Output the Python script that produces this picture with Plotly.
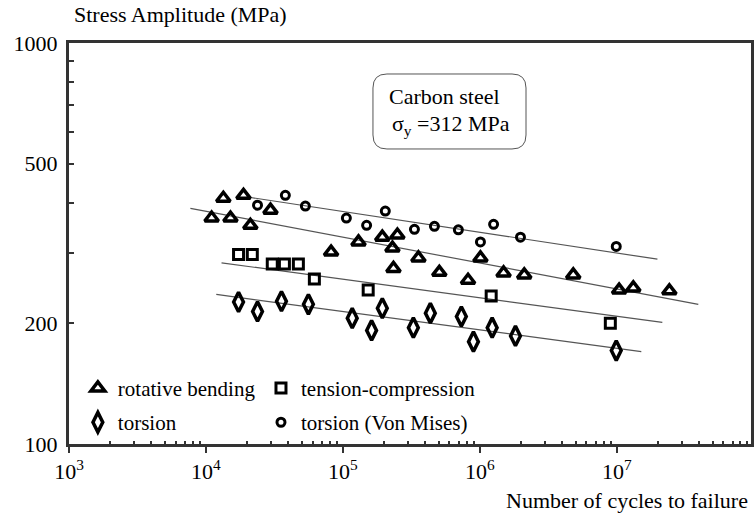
import plotly.graph_objects as go

# ---- data (cycles to failure N, stress amplitude in MPa) ----
rb_N = [1.10e4, 1.34e4, 1.51e4, 1.88e4, 2.11e4, 2.96e4, 8.2e4, 1.30e5, 1.94e5, 2.50e5,
        2.30e5, 2.34e5, 3.56e5, 5.06e5, 8.2e5, 1.01e6, 1.49e6, 2.11e6, 4.81e6, 1.04e7,
        1.32e7, 2.42e7]
rb_S = [366, 410, 366, 417, 351, 383, 301, 319, 328, 332,
        308, 274, 291, 268, 256, 291, 267, 264, 264, 242,
        245, 241]

tc_N = [1.73e4, 2.18e4, 3.05e4, 3.74e4, 4.73e4, 6.19e4, 1.53e5, 1.21e6, 8.97e6]
tc_S = [297, 297, 281, 281, 281, 258, 242, 234, 200]

to_N = [1.73e4, 2.38e4, 3.56e4, 5.60e4, 1.17e5, 1.62e5, 1.94e5, 3.27e5, 4.35e5,
        7.33e5, 8.98e5, 1.23e6, 1.82e6, 9.91e6]
to_S = [226, 214, 227, 223, 206, 192, 218, 195, 212, 208, 180, 195, 186, 171]

vm_N = [2.38e4, 3.80e4, 5.32e4, 1.06e5, 1.49e5, 2.04e5, 3.33e5, 4.66e5, 6.97e5,
        1.01e6, 1.26e6, 1.98e6, 9.91e6]
vm_S = [394, 417, 392, 366, 351, 381, 343, 349, 342, 319, 353, 328, 311]

# fitted lines (end points)
fit_vm_N = [2.01e4, 1.98e7]; fit_vm_S = [413, 289]
fit_rb_N = [7.7e3, 3.94e7];  fit_rb_S = [387, 223]
fit_tc_N = [1.30e4, 2.15e7]; fit_tc_S = [283, 201]
fit_to_N = [1.19e4, 1.51e7]; fit_to_S = [236, 170]

x_tickvals = [1e3, 1e4, 1e5, 1e6, 1e7]
x_ticktext = ["10<sup>3</sup>", "10<sup>4</sup>", "10<sup>5</sup>", "10<sup>6</sup>", "10<sup>7</sup>"]
x_minor = [m * 10 ** k for k in range(3, 8) for m in range(2, 10)]
y_tickvals = [100, 200, 500, 1000]
y_ticktext = ["100", "200", "500", "1000"]
y_minor = [300, 400, 600, 700, 800, 900]

SERIF = "Liberation Serif"
LINE_C = "#555555"
AX_C = "#333333"

fig = go.Figure()

for fx, fy in [(fit_vm_N, fit_vm_S), (fit_rb_N, fit_rb_S), (fit_tc_N, fit_tc_S), (fit_to_N, fit_to_S)]:
    fig.add_trace(go.Scatter(x=fx, y=fy, mode="lines", line=dict(color=LINE_C, width=1.2),
                             showlegend=False, hoverinfo="skip"))

fig.add_trace(go.Scatter(x=rb_N, y=rb_S, mode="markers", name="rotative bending",
                         legend="legend", legendgroup="rb",
                         marker=dict(symbol="triangle-up-open", size=12, color="black",
                                     line=dict(color="black", width=3.5))))
fig.add_trace(go.Scatter(x=to_N, y=to_S, mode="markers", name="torsion",
                         legend="legend", legendgroup="to",
                         marker=dict(symbol="diamond-tall-open", size=14, color="black",
                                     line=dict(color="black", width=3.5))))
fig.add_trace(go.Scatter(x=tc_N, y=tc_S, mode="markers", name="tension-compression",
                         legend="legend2", legendgroup="tc",
                         marker=dict(symbol="square-open", size=10, color="black",
                                     line=dict(color="black", width=3))))
fig.add_trace(go.Scatter(x=vm_N, y=vm_S, mode="markers", name="torsion (Von Mises)",
                         legend="legend2", legendgroup="vm",
                         marker=dict(symbol="circle-open", size=8, color="black",
                                     line=dict(color="black", width=3))))

leg_common = dict(font=dict(family=SERIF, size=21, color="black"), bgcolor="rgba(0,0,0,0)",
                  xanchor="left", yanchor="top", tracegroupgap=4, orientation="v")

# rounded box (paper coords)
x0, x1, yt, yb = 0.4457, 0.6701, 0.9227, 0.7357
rx, ry = 0.0205, 0.0349
path = (f"M{x0+rx},{yt} L{x1-rx},{yt} Q{x1},{yt} {x1},{yt-ry} L{x1},{yb+ry} "
        f"Q{x1},{yb} {x1-rx},{yb} L{x0+rx},{yb} Q{x0},{yb} {x0},{yb+ry} "
        f"L{x0},{yt-ry} Q{x0},{yt} {x0+rx},{yt} Z")

fig.update_layout(
    width=754, height=515,
    margin=dict(l=69, r=3, t=43, b=71, autoexpand=False),
    paper_bgcolor="white", plot_bgcolor="white",
    font=dict(family=SERIF, color="black"),
    legend=dict(x=0.013, y=0.19, **leg_common),
    legend2=dict(x=0.2815, y=0.19, **leg_common),
    xaxis=dict(type="log", range=[3, 7.98], tickmode="array", tickvals=x_tickvals,
               ticktext=x_ticktext, ticks="outside", ticklen=6, tickwidth=2, tickcolor=AX_C,
               showline=True, linewidth=3, linecolor=AX_C, mirror=True,
               showgrid=False, zeroline=False,
               tickfont=dict(family=SERIF, size=22, color="black"),
               minor=dict(tickmode="array", tickvals=x_minor, ticks="inside", ticklen=3,
                          tickwidth=1.5, tickcolor=AX_C, showgrid=False)),
    yaxis=dict(type="log", range=[2, 3], tickmode="array", tickvals=y_tickvals,
               ticktext=y_ticktext, ticks="inside", ticklen=5, tickwidth=2, tickcolor=AX_C,
               showline=True, linewidth=3, linecolor=AX_C, mirror=True,
               showgrid=False, zeroline=False, ticklabelstandoff=4,
               tickfont=dict(family=SERIF, size=22, color="black"),
               minor=dict(tickmode="array", tickvals=y_minor, ticks="inside", ticklen=5,
                          tickwidth=1.5, tickcolor=AX_C, showgrid=False)),
    shapes=[dict(type="path", xref="paper", yref="paper", path=path,
                 line=dict(color="#555555", width=1), fillcolor="white", layer="below")],
    annotations=[
        dict(text="Stress Amplitude (MPa)", xref="paper", yref="paper", x=0.004, y=1.07,
             xanchor="left", yanchor="middle", showarrow=False,
             font=dict(family=SERIF, size=22, color="black")),
        dict(text="Number of cycles to failure", xref="paper", yref="paper", x=0.9985, y=-0.14,
             xanchor="right", yanchor="middle", showarrow=False,
             font=dict(family=SERIF, size=22, color="black")),
        dict(text="Carbon steel", xref="paper", yref="paper", x=0.4663, y=0.8678,
             xanchor="left", yanchor="middle", showarrow=False,
             font=dict(family=SERIF, size=22, color="black")),
        dict(text="σ<sub>y</sub> =312 MPa", xref="paper", yref="paper", x=0.4707, y=0.795,
             xanchor="left", yanchor="middle", showarrow=False,
             font=dict(family=SERIF, size=22, color="black")),
    ],
)

fig.write_html("out.html")
